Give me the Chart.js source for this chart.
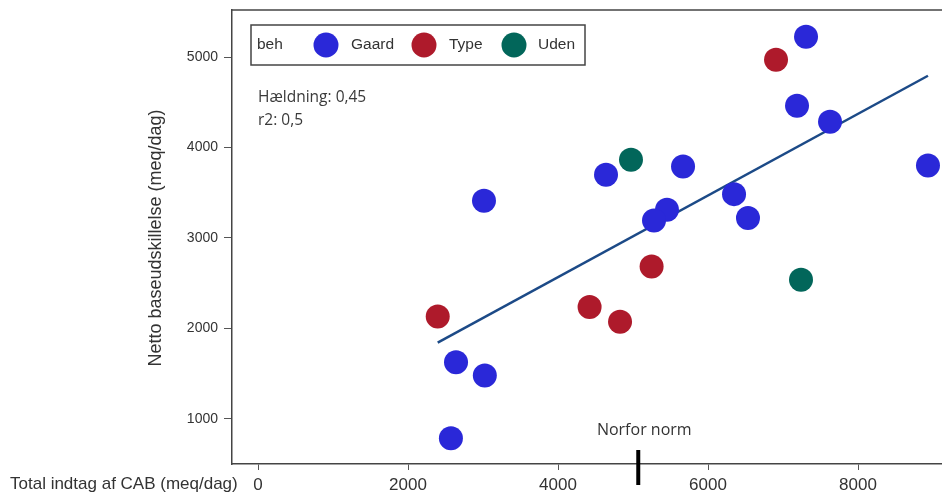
<!DOCTYPE html>
<html>
<head>
<meta charset="utf-8">
<script src="https://cdn.jsdelivr.net/npm/chart.js@4/dist/chart.umd.min.js"></script>
<style>
  html, body { margin: 0; padding: 0; background: #fff; }
  canvas { display: block; }
</style>
</head>
<body>
<canvas id="c" width="942" height="493"></canvas>
<script>
// ---- data ----
const seriesNames = ["Gaard", "Type", "Uden"];
const gaardX = [7307, 7187, 7627, 8933, 5667, 4640, 3013, 6347, 5453, 5280, 6533, 2640, 3024, 2572];
const gaardY = [5225, 4461, 4284, 3801, 3790, 3698, 3410, 3484, 3311, 3193, 3219, 1626, 1478, 785];
const typeX  = [6907, 5248, 2396, 4421, 4827];
const typeY  = [4970, 2684, 2130, 2235, 2072];
const udenX  = [4973, 7240];
const udenY  = [3864, 2537];
const trendX = [2396, 8933];
const trendY = [1843, 4793];
const xTicks = [0, 2000, 4000, 6000, 8000];
const yTicks = [1000, 2000, 3000, 4000, 5000];
const normX = [5070];
const legendTitle = "beh";
const annotLines = ["Hældning: 0,45", "r2: 0,5"];
const normLabel = "Norfor norm";
const xTitle = "Total indtag af CAB (meq/dag)";
const yTitle = "Netto baseudskillelse (meq/dag)";

const colors = ["#2a28d8", "#ae1a2b", "#02665a"];
const zip = (xs, ys) => xs.map((x, i) => ({ x: x, y: ys[i] }));

const extras = {
  id: 'extras',
  afterDraw(chart) {
    const ctx = chart.ctx;
    const ca = chart.chartArea;
    const xs = chart.scales.x;
    ctx.save();
    // top frame line
    ctx.strokeStyle = '#444';
    ctx.lineWidth = 1.5;
    ctx.beginPath();
    ctx.moveTo(ca.left, ca.top);
    ctx.lineTo(ca.right, ca.top);
    ctx.stroke();

    // legend box
    ctx.strokeStyle = '#444';
    ctx.lineWidth = 1.5;
    ctx.strokeRect(251, 25, 334, 40);
    ctx.font = '15.5px "Liberation Sans", Arial, sans-serif';
    ctx.fillStyle = '#333';
    ctx.textBaseline = 'middle';
    ctx.textAlign = 'left';
    ctx.fillText(legendTitle, 257, 45);
    const mk = [326, 424, 514];
    const lx = [351, 449, 538];
    seriesNames.forEach((n, i) => {
      ctx.fillStyle = colors[i];
      ctx.beginPath();
      ctx.arc(mk[i], 45, 12.5, 0, Math.PI * 2);
      ctx.fill();
      ctx.fillStyle = '#333';
      ctx.fillText(n, lx[i], 45);
    });

    // annotation
    ctx.font = '15.5px "Open Sans", sans-serif';
    ctx.fillStyle = '#3a3a3a';
    ctx.fillText(annotLines[0], 258, 98);
    ctx.fillText(annotLines[1], 258, 121);

    // Norfor norm marker
    const nx = xs.getPixelForValue(normX[0]);
    ctx.strokeStyle = '#000';
    ctx.lineWidth = 4;
    ctx.beginPath();
    ctx.moveTo(nx, 450);
    ctx.lineTo(nx, 485);
    ctx.stroke();
    ctx.font = '16px "Open Sans", sans-serif';
    ctx.fillStyle = '#333';
    ctx.textAlign = 'center';
    ctx.fillText(normLabel, nx + 6, 430);

    // x title
    ctx.font = '17px "Liberation Sans", Arial, sans-serif';
    ctx.textAlign = 'left';
    ctx.fillStyle = '#333';
    ctx.fillText(xTitle, 10, 484);

    // y title
    ctx.translate(156, 238);
    ctx.rotate(-Math.PI / 2);
    ctx.textAlign = 'center';
    ctx.font = '18px "Liberation Sans", Arial, sans-serif';
    ctx.fillText(yTitle, 0, 0);
    ctx.restore();
  }
};

new Chart(document.getElementById('c'), {
  type: 'scatter',
  data: {
    datasets: [
      { type: 'line', data: zip(trendX, trendY), borderColor: '#1c4a87', borderWidth: 2.5,
        pointRadius: 0, fill: false, order: 10 },
      { label: seriesNames[0], data: zip(gaardX, gaardY), backgroundColor: colors[0], borderWidth: 0,
        pointRadius: 12, pointHoverRadius: 12, order: 1 },
      { label: seriesNames[1], data: zip(typeX, typeY), backgroundColor: colors[1], borderWidth: 0,
        pointRadius: 12, pointHoverRadius: 12, order: 1 },
      { label: seriesNames[2], data: zip(udenX, udenY), backgroundColor: colors[2], borderWidth: 0,
        pointRadius: 12, pointHoverRadius: 12, order: 1 }
    ]
  },
  options: {
    responsive: false,
    animation: false,
    devicePixelRatio: 1,
    layout: { autoPadding: false, padding: { left: 0, right: 0, top: 10, bottom: 0 } },
    plugins: { legend: { display: false }, tooltip: { enabled: false } },
    scales: {
      x: {
        type: 'linear', min: -347, max: 9120,
        afterBuildTicks: s => { s.ticks = xTicks.map(v => ({ value: v })); },
        afterFit: s => { s.height = 29; s.paddingLeft = 0; s.paddingRight = 0; },
        grid: { drawOnChartArea: false, drawTicks: true, tickLength: 6, color: '#555' },
        border: { display: true, color: '#444', width: 1.5 },
        ticks: { font: { family: 'Liberation Sans', size: 17 }, color: '#333', padding: 5,
                 autoSkip: false, maxRotation: 0, callback: v => String(v) }
      },
      y: {
        type: 'linear', min: 500, max: 5520,
        afterBuildTicks: s => { s.ticks = yTicks.map(v => ({ value: v })); },
        afterFit: s => { s.width = 232; s.paddingTop = 0; s.paddingBottom = 0; },
        grid: { drawOnChartArea: false, drawTicks: true, tickLength: 8, color: '#555' },
        border: { display: true, color: '#444', width: 1.5 },
        ticks: { font: { family: 'Liberation Sans', size: 14 }, color: '#333', padding: 6,
                 callback: v => String(v) }
      }
    }
  },
  plugins: [extras]
});
</script>
</body>
</html>
